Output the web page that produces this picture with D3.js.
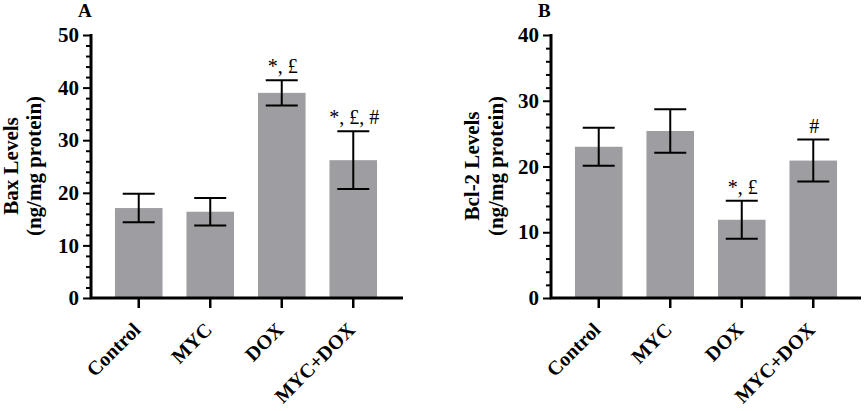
<!DOCTYPE html>
<html>
<head>
<script src="https://d3js.org/d3.v7.min.js"></script>
<style>
  body {margin:0; background:#fff;}
  text {font-family:"Liberation Serif","Times New Roman",serif;}
</style>
</head>
<body>
<script>
const groups = ['Control', 'MYC', 'DOX', 'MYC+DOX'];
const baxMean = [17.1, 16.4, 39.0, 26.2];
const baxErr = [2.7, 2.6, 2.4, 5.5];
const baxMarks = ['', '', '*, £', '*, £, #'];
const baxTicks = [0, 10, 20, 30, 40, 50];
const bclMean = [23.0, 25.4, 11.9, 20.9];
const bclErr = [2.9, 3.3, 2.9, 3.2];
const bclMarks = ['', '', '*, £', '#'];
const bclTicks = [0, 10, 20, 30, 40];

const W = 865, H = 411;
const svg = d3.select('body').append('svg').attr('width', W).attr('height', H);

function panel(o) {
  const g = svg.append('g');
  const max = o.ticks[o.ticks.length - 1];
  const y = d3.scaleLinear().domain([0, max]).range([298, 35]);
  const x = d3.scaleBand().domain(groups).range([o.left, o.left + 310])
    .paddingInner(0.335).paddingOuter(0.335);

  const data = groups.map((k, i) => ({k: k, v: o.mean[i], e: o.err[i], m: o.marks[i]}));
  const cx = d => x(d.k) + x.bandwidth() / 2;

  // bars
  g.selectAll('rect.bar').data(data).enter().append('rect')
    .attr('class', 'bar')
    .attr('x', d => x(d.k))
    .attr('y', d => y(d.v))
    .attr('width', x.bandwidth())
    .attr('height', d => y(0) - y(d.v))
    .attr('fill', '#9d9da2');

  // error bars (mean +/- err)
  const eb = g.selectAll('g.err').data(data).enter().append('g').attr('class', 'err')
    .attr('stroke', '#000').attr('stroke-width', 2);
  eb.append('line').attr('x1', cx).attr('x2', cx)
    .attr('y1', d => y(d.v + d.e)).attr('y2', d => y(d.v - d.e));
  eb.append('line').attr('x1', d => cx(d) - 16).attr('x2', d => cx(d) + 16)
    .attr('y1', d => y(d.v + d.e)).attr('y2', d => y(d.v + d.e));
  eb.append('line').attr('x1', d => cx(d) - 16).attr('x2', d => cx(d) + 16)
    .attr('y1', d => y(d.v - d.e)).attr('y2', d => y(d.v - d.e));

  // significance marks
  g.selectAll('text.mark').data(data).enter().append('text')
    .attr('class', 'mark')
    .attr('x', d => cx(d) + 1)
    .attr('y', d => y(d.v + d.e) - 7)
    .attr('text-anchor', 'middle')
    .attr('font-size', 20)
    .text(d => d.m);

  // y axis, minor ticks every 2
  const ya = g.append('g').attr('transform', `translate(${o.left},0)`)
    .call(d3.axisLeft(y).tickValues(d3.range(0, max + 1, 2))
      .tickSize(7).tickPadding(5)
      .tickFormat(d => o.ticks.includes(d) ? d : ''));
  ya.attr('font-family', null);
  ya.select('.domain').attr('stroke-width', 3).attr('d', `M0,${y(max) - 1}V${y(0)}`);
  ya.selectAll('.tick line').attr('stroke-width', 2)
    .attr('x2', d => o.ticks.includes(d) ? -8 : -5);
  ya.selectAll('.tick text').attr('font-size', 21).attr('font-weight', 'bold').attr('fill', '#000');

  // x axis (labels drawn separately, rotated)
  const xa = g.append('g').attr('transform', `translate(0,${y(0)})`)
    .call(d3.axisBottom(x).tickSize(10).tickSizeOuter(0).tickFormat(''));
  xa.select('.domain').attr('stroke-width', 3).attr('d', `M${o.left - 1},0H${o.left + o.axisLen}`);
  xa.selectAll('.tick line').attr('stroke-width', 2.5);

  g.selectAll('text.xlab').data(groups).enter().append('text')
    .attr('class', 'xlab')
    .attr('transform', d => `translate(${x(d) + x.bandwidth() / 2 - 2},${y(0) + 28}) rotate(-45)`)
    .attr('text-anchor', 'end')
    .attr('dy', '0.35em')
    .attr('font-size', 20).attr('font-weight', 'bold')
    .text(d => d);

  // y title
  o.title.forEach((t, i) => {
    g.append('text')
      .attr('transform', `translate(${o.titleX[i]},166) rotate(-90)`)
      .attr('text-anchor', 'middle')
      .attr('font-size', 21).attr('font-weight', 'bold')
      .text(t);
  });

  // panel letter
  g.append('text').attr('x', o.letterX).attr('y', 17)
    .attr('font-size', 19).attr('font-weight', 'bold').text(o.letter);
}

panel({left: 91, axisLen: 312, ticks: baxTicks, mean: baxMean, err: baxErr, marks: baxMarks,
  title: ['Bax Levels', '(ng/mg protein)'], titleX: [18, 41], letter: 'A', letterX: 78});
panel({left: 551, axisLen: 310, ticks: bclTicks, mean: bclMean, err: bclErr, marks: bclMarks,
  title: ['Bcl-2 Levels', '(ng/mg protein)'], titleX: [479, 503], letter: 'B', letterX: 538});
</script>
</body>
</html>
